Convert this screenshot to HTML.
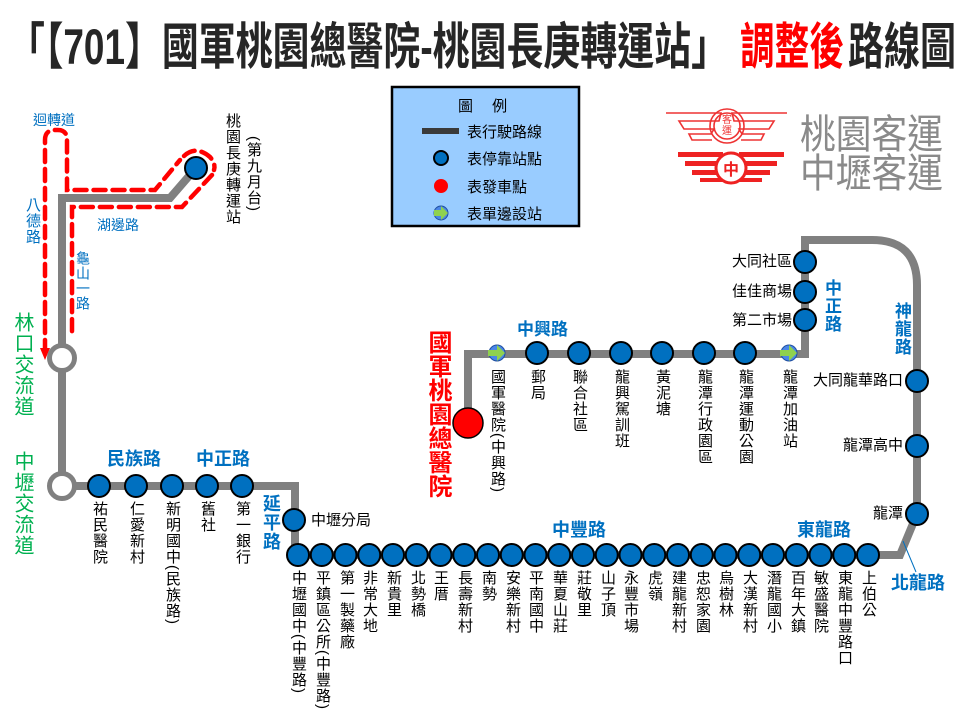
<!DOCTYPE html>
<html><head><meta charset="utf-8">
<style>
html,body{margin:0;padding:0;background:#fff;}
#w{position:relative;width:960px;height:720px;overflow:hidden;font-family:"Liberation Sans","Noto Sans CJK TC",sans-serif;}
svg{position:absolute;left:0;top:0;}
.v{position:absolute;writing-mode:vertical-rl;font-size:15px;line-height:16px;color:#000;white-space:nowrap;letter-spacing:1px;font-family:"Liberation Sans","Noto Sans CJK TC",sans-serif;}
.h{position:absolute;font-size:15px;line-height:16px;color:#000;white-space:nowrap;}
.b{color:#0070c0;}
.bb{color:#0070c0;font-weight:bold;font-size:18px;line-height:20px;}
.g{color:#00b050;font-size:20px;line-height:24px;}
</style></head><body><div id="w">
<svg width="960" height="720" viewBox="0 0 960 720" font-family="Liberation Sans, Noto Sans CJK TC, sans-serif">
<text x="8" y="64" font-size="50" font-weight="bold" fill="#262626" textLength="720" lengthAdjust="spacingAndGlyphs">「【701】國軍桃園總醫院-桃園長庚轉運站」</text>
<text x="740" y="64" font-size="50" font-weight="bold" fill="#ff0000" textLength="104" lengthAdjust="spacingAndGlyphs">調整後</text>
<text x="848" y="64" font-size="50" font-weight="bold" fill="#262626" textLength="108" lengthAdjust="spacingAndGlyphs">路線圖</text>

<!-- legend -->
<rect x="392" y="87" width="187" height="139" fill="#99ccff" stroke="#000" stroke-width="2.5"/>
<text x="458" y="111" font-size="15" fill="#000">圖　 例</text>
<rect x="422" y="128" width="37" height="6" fill="#3a3a3a"/>
<text x="467" y="137" font-size="15">表行駛路線</text>
<circle cx="441" cy="158" r="7" fill="#0070c0" stroke="#000" stroke-width="2"/>
<text x="467" y="164" font-size="15">表停靠站點</text>
<circle cx="441" cy="186" r="7" fill="#ff0000"/>
<text x="467" y="192" font-size="15">表發車點</text>
<circle cx="441" cy="213" r="7" fill="#4a86e8" stroke="#2050a0" stroke-width="1"/>
<path d="M434 210h7v-4l7 7-7 7v-4h-7z" fill="#8fd14f"/>
<text x="467" y="219" font-size="15">表單邊設站</text>

<!-- logo -->
<g fill="none" stroke="#ee3333" stroke-width="1.6">
<path d="M666 113h55l-2 8h-40l5 8h30l-3 5h-22l3 6h20"/>
<path d="M787 113h-55l2 8h40l-5 8h-30l3 5h22l-3 6h-20"/>
<circle cx="727" cy="126" r="17"/><circle cx="727" cy="126" r="13"/>
</g>
<text x="727" y="123" font-size="10" fill="#ee3333" text-anchor="middle">客</text>
<text x="727" y="134" font-size="10" fill="#ee3333" text-anchor="middle">運</text>
<g fill="#ee2222">
<path d="M678 152h45v5h-45z M685 161h38v5h-38z M692 170h31v5h-31z M700 178h23v4h-23z"/>
<path d="M784 152h-45v5h45z M777 161h-38v5h38z M770 170h-31v5h31z M762 178h-23v4h23z"/>
<circle cx="731" cy="168" r="15" fill="#fff" stroke="#ee2222" stroke-width="3"/>
</g>
<text x="731" y="175" font-size="16" fill="#ee2222" text-anchor="middle" font-weight="bold">中</text>
<text x="800" y="148" font-size="40" fill="#8a8a8a" textLength="143" lengthAdjust="spacingAndGlyphs">桃園客運</text>
<text x="800" y="187" font-size="40" fill="#8a8a8a" textLength="143" lengthAdjust="spacingAndGlyphs">中壢客運</text>

<!-- gray routes -->
<g fill="none" stroke="#808080" stroke-width="8" stroke-linejoin="miter">
<path d="M196 168 L170 198 H62 V486 H295 V555 H900 L917 514 V285 Q917 240 872 240 H805 V354 H468 V423"/>
</g>
<!-- red dashed -->
<g fill="none" stroke="#ff0000" stroke-width="4.5" stroke-dasharray="12 7" stroke-linecap="round">
<path d="M45 352 V140 Q45 130 55 130 H58 Q67 130 67 140 V190 H155 L180 160"/>
<path d="M184 156 Q196 145 210 157 Q216 164 214 170"/>
<path d="M212 175 L182 207 H72 V335"/>
</g>
<path d="M40 348 L50 348 L45 360 Z" fill="#ff0000"/>

<!-- hollow -->
<circle cx="62" cy="358" r="12.5" fill="#fff" stroke="#808080" stroke-width="5"/>
<circle cx="62" cy="486" r="12.5" fill="#fff" stroke="#808080" stroke-width="5"/>

<g fill="#0070c0" stroke="#000" stroke-width="2">
<circle cx="196" cy="168" r="11"/>
<circle cx="99" cy="486" r="11"/><circle cx="136" cy="486" r="11"/><circle cx="172" cy="486" r="11"/><circle cx="207" cy="486" r="11"/><circle cx="242" cy="486" r="11"/>
<circle cx="294" cy="520" r="11"/>
<circle cx="298" cy="555" r="11"/><circle cx="321.75" cy="555" r="11"/><circle cx="345.5" cy="555" r="11"/><circle cx="369.25" cy="555" r="11"/><circle cx="393" cy="555" r="11"/><circle cx="416.75" cy="555" r="11"/><circle cx="440.5" cy="555" r="11"/><circle cx="464.25" cy="555" r="11"/><circle cx="488" cy="555" r="11"/><circle cx="511.75" cy="555" r="11"/><circle cx="535.5" cy="555" r="11"/><circle cx="559.25" cy="555" r="11"/><circle cx="583" cy="555" r="11"/><circle cx="606.75" cy="555" r="11"/><circle cx="630.5" cy="555" r="11"/><circle cx="654.25" cy="555" r="11"/><circle cx="678" cy="555" r="11"/><circle cx="701.75" cy="555" r="11"/><circle cx="725.5" cy="555" r="11"/><circle cx="749.25" cy="555" r="11"/><circle cx="773" cy="555" r="11"/><circle cx="796.75" cy="555" r="11"/><circle cx="820.5" cy="555" r="11"/><circle cx="844.25" cy="555" r="11"/><circle cx="868" cy="555" r="11"/>
<circle cx="917" cy="381" r="11"/><circle cx="917" cy="446" r="11"/><circle cx="917" cy="514" r="11"/>
<circle cx="805" cy="262" r="11"/><circle cx="805" cy="292" r="11"/><circle cx="805" cy="320" r="11"/>
<circle cx="537" cy="353" r="11"/><circle cx="579" cy="353" r="11"/><circle cx="621" cy="353" r="11"/><circle cx="662" cy="353" r="11"/><circle cx="704" cy="353" r="11"/><circle cx="745" cy="353" r="11"/>
</g>
<g>
<circle cx="497" cy="353" r="8" fill="#4a86e8" stroke="#2050a0"/><path d="M488 350h9v-5l8 8-8 8v-5h-9z" fill="#8fd14f"/>
<circle cx="789" cy="353" r="8" fill="#4a86e8" stroke="#2050a0"/><path d="M780 350h9v-5l8 8-8 8v-5h-9z" fill="#8fd14f"/>
</g>
<circle cx="468" cy="423" r="15" fill="#ff0000" stroke="#000" stroke-width="1.5"/>
<line x1="903" y1="541" x2="916" y2="572" stroke="#0070c0" stroke-width="1"/>
</svg>

<!-- road labels -->
<div class="h b" style="left:33px;top:112px;font-size:14px">迴轉道</div>
<div class="v b" style="left:24px;top:197px;font-size:15px">八德路</div>
<div class="h b" style="left:97px;top:217px;font-size:14px">湖邊路</div>
<div class="v b" style="left:75px;top:251px;font-size:14px">龜山一路</div>
<div class="v g" style="left:10px;top:312px">林口交流道</div>
<div class="v g" style="left:10px;top:451px">中壢交流道</div>
<div class="h bb" style="left:107px;top:449px">民族路</div>
<div class="h bb" style="left:196px;top:449px">中正路</div>
<div class="v bb" style="left:261px;top:494px">延平路</div>
<div class="h bb" style="left:552px;top:520px">中豐路</div>
<div class="h bb" style="left:797px;top:520px">東龍路</div>
<div class="h bb" style="left:891px;top:573px">北龍路</div>
<div class="h bb" style="left:517px;top:320px;font-size:17px">中興路</div>
<div class="v bb" style="left:821px;top:279px;font-size:17px">中正路</div>
<div class="v bb" style="left:891px;top:302px;font-size:17px">神龍路</div>
<div class="v" style="left:424px;top:330px;color:#ff0000;font-size:24px;line-height:26px;font-weight:bold;letter-spacing:0">國軍桃園總醫院</div>

<!-- station labels -->
<div class="v" style="left:224px;top:113px">桃園長庚轉運站</div>
<div class="v" style="left:245px;top:136px">(第九月台)</div>
<div class="v" style="left:91px;top:501px">祐民醫院</div>
<div class="v" style="left:128px;top:501px">仁愛新村</div>
<div class="v" style="left:164px;top:501px">新明國中(民族路)</div>
<div class="v" style="left:199px;top:501px">舊社</div>
<div class="v" style="left:234px;top:501px">第一銀行</div>
<div class="h" style="left:311px;top:513px">中壢分局</div>

<div class="v" style="left:290px;top:570px">中壢國中(中豐路)</div>
<div class="v" style="left:314px;top:570px">平鎮區公所(中豐路)</div>
<div class="v" style="left:338px;top:570px">第一製藥廠</div>
<div class="v" style="left:361px;top:570px">非常大地</div>
<div class="v" style="left:385px;top:570px">新貴里</div>
<div class="v" style="left:409px;top:570px">北勢橋</div>
<div class="v" style="left:432px;top:570px">王厝</div>
<div class="v" style="left:456px;top:570px">長壽新村</div>
<div class="v" style="left:480px;top:570px">南勢</div>
<div class="v" style="left:504px;top:570px">安樂新村</div>
<div class="v" style="left:527px;top:570px">平南國中</div>
<div class="v" style="left:551px;top:570px">華夏山莊</div>
<div class="v" style="left:575px;top:570px">莊敬里</div>
<div class="v" style="left:599px;top:570px">山子頂</div>
<div class="v" style="left:622px;top:570px">永豐市場</div>
<div class="v" style="left:646px;top:570px">虎嶺</div>
<div class="v" style="left:670px;top:570px">建龍新村</div>
<div class="v" style="left:694px;top:570px">忠恕家園</div>
<div class="v" style="left:717px;top:570px">烏樹林</div>
<div class="v" style="left:741px;top:570px">大漢新村</div>
<div class="v" style="left:765px;top:570px">潛龍國小</div>
<div class="v" style="left:789px;top:570px">百年大鎮</div>
<div class="v" style="left:812px;top:570px">敏盛醫院</div>
<div class="v" style="left:836px;top:570px">東龍中豐路口</div>
<div class="v" style="left:860px;top:570px">上伯公</div>

<div class="h" style="right:57px;top:373px">大同龍華路口</div>
<div class="h" style="right:57px;top:438px">龍潭高中</div>
<div class="h" style="right:57px;top:506px">龍潭</div>
<div class="h" style="right:168px;top:254px">大同社區</div>
<div class="h" style="right:168px;top:284px">佳佳商場</div>
<div class="h" style="right:168px;top:313px">第二市場</div>

<div class="v" style="left:489px;top:369px">國軍醫院(中興路)</div>
<div class="v" style="left:529px;top:369px">郵局</div>
<div class="v" style="left:571px;top:369px">聯合社區</div>
<div class="v" style="left:613px;top:369px">龍興駕訓班</div>
<div class="v" style="left:654px;top:369px">黃泥塘</div>
<div class="v" style="left:696px;top:369px">龍潭行政園區</div>
<div class="v" style="left:737px;top:369px">龍潭運動公園</div>
<div class="v" style="left:781px;top:369px">龍潭加油站</div>
</div></body></html>
